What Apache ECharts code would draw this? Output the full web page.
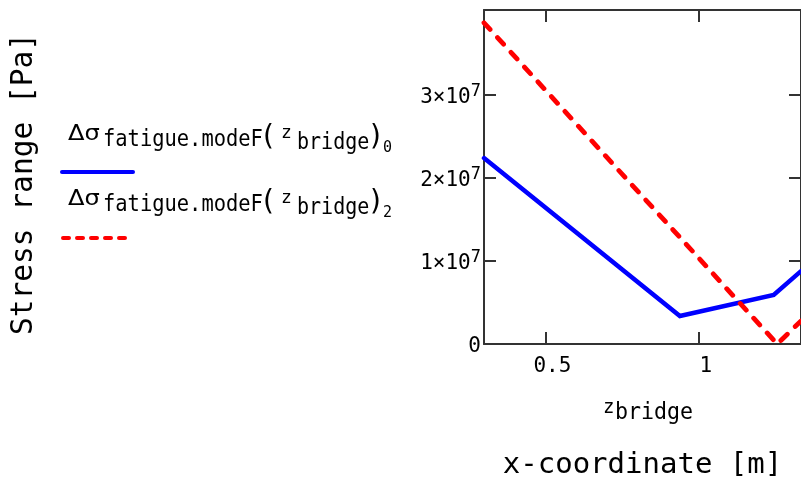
<!DOCTYPE html>
<html>
<head>
<meta charset="utf-8">
<script src="https://cdn.jsdelivr.net/npm/echarts@6/dist/echarts.min.js"></script>
<style>
  html, body { margin: 0; padding: 0; background: #ffffff; }
  #chart { width: 801px; height: 479px; }
</style>
</head>
<body>
<div id="chart"></div>
<script>
// Stress range along the bridge, fatigue mode F, two load cases
const zBridge0 = [0.3, 0.938, 1.2435, 1.3325];
const stressMode0 = [2.24e7, 0.337e7, 0.59e7, 0.878e7];
const zBridge2 = [0.3, 1.255, 1.3325];
const stressMode2 = [3.87e7, 0, 0.278e7];

const xTicks = [0.5, 1];
const yTicks = [0, 1e7, 2e7, 3e7];

const MONO = '"DejaVu Sans Mono", monospace';
const SANS = '"DejaVu Sans", sans-serif';
const AXIS_COLOR = '#333333';

const chart = echarts.init(document.getElementById('chart'), null, { renderer: 'canvas' });

function pairs(xs, ys) { return xs.map((x, i) => [x, ys[i]]); }

function txt(x, y, text, size, family, align, sx) {
  return {
    type: 'text', x: x, y: y, silent: true, scaleX: sx || 1,
    style: {
      text: text, fill: '#000', fontSize: size, fontFamily: family,
      align: align || 'left', verticalAlign: 'middle',
      textAlign: align || 'left', textVerticalAlign: 'middle'
    }
  };
}

// legend entry: Δσ_fatigue.modeF(z_bridge)_k with a line sample below
function legendEntry(dy, idx) {
  return [
    txt(68, 135.0 + dy, 'Δσ', 21, SANS, 'left', 1.15),
    txt(103, 140.5 + dy, 'fatigue.modeF', 22.5, MONO, 'left', 0.908),
    txt(263, 137.5 + dy, '(', 28, SANS),
    txt(281, 133.5 + dy, 'z', 18, MONO),
    txt(297, 143.5 + dy, 'bridge', 22.5, MONO, 'left', 0.89),
    txt(370, 137.5 + dy, ')', 28, SANS),
    txt(383, 148.5 + dy, idx, 15, MONO)
  ];
}

const axisLineStyle = { color: AXIS_COLOR, width: 2 };

const option = {
  animation: false,
  backgroundColor: '#ffffff',
  grid: { left: 484, top: 10, right: -1, bottom: 135, containLabel: false },
  xAxis: [
    {
      type: 'value', min: 0.3, max: 1.3325, position: 'bottom',
      axisLine: { show: true, onZero: false, lineStyle: axisLineStyle },
      axisTick: { show: true, inside: true, length: 12, customValues: xTicks, lineStyle: axisLineStyle },
      axisLabel: {
        show: true, customValues: xTicks, margin: 12,
        fontFamily: MONO, fontSize: 21, color: '#000',
        padding: [0, 0, 0, 14],
        formatter: v => String(v)
      },
      splitLine: { show: false }
    },
    {
      type: 'value', min: 0.3, max: 1.3325, position: 'top',
      axisLine: { show: true, onZero: false, lineStyle: axisLineStyle },
      axisTick: { show: true, inside: true, length: 12, customValues: xTicks, lineStyle: axisLineStyle },
      axisLabel: { show: false },
      splitLine: { show: false }
    }
  ],
  yAxis: [
    {
      type: 'value', min: 0, max: 4.024e7, position: 'left',
      axisLine: { show: true, onZero: false, lineStyle: axisLineStyle },
      axisTick: { show: true, inside: true, length: 12, customValues: yTicks, lineStyle: axisLineStyle },
      axisLabel: {
        show: true, customValues: yTicks, margin: 3,
        formatter: v => v === 0 ? '{m|0}' : '{m|' + Math.round(v / 1e7) + '×10}{s|7}',
        rich: {
          m: { fontFamily: MONO, fontSize: 21, color: '#000', lineHeight: 32, padding: [6, 0, 0, 0], verticalAlign: 'middle' },
          s: { fontFamily: MONO, fontSize: 17, color: '#000', lineHeight: 17, padding: [4, 0, 0, 0], verticalAlign: 'top' }
        }
      },
      splitLine: { show: false }
    },
    {
      type: 'value', min: 0, max: 4.024e7, position: 'right',
      axisLine: { show: true, onZero: false, lineStyle: axisLineStyle },
      axisTick: { show: true, inside: true, length: 12, customValues: yTicks, lineStyle: axisLineStyle },
      axisLabel: { show: false },
      splitLine: { show: false }
    }
  ],
  series: [
    {
      name: 'mode0', type: 'line', xAxisIndex: 0, yAxisIndex: 0,
      data: pairs(zBridge0, stressMode0),
      symbol: 'none', clip: true,
      lineStyle: { color: '#0000ff', width: 4.5, cap: 'round', join: 'miter' }
    },
    {
      name: 'mode2', type: 'line', xAxisIndex: 0, yAxisIndex: 0,
      data: pairs(zBridge2, stressMode2),
      symbol: 'none', clip: true,
      lineStyle: { color: '#ff0000', width: 4.8, type: [9, 11], cap: 'round', join: 'miter' }
    }
  ],
  graphic: [
    // vertical axis title
    {
      type: 'text', x: 24, y: 184, rotation: Math.PI / 2, silent: true,
      style: {
        text: 'Stress range [Pa]', fill: '#000', fontSize: 29.5, fontFamily: MONO,
        align: 'center', verticalAlign: 'middle', textAlign: 'center', textVerticalAlign: 'middle'
      }
    },
    // horizontal axis titles
    txt(603, 408, 'z', 19, MONO),
    txt(615, 413.5, 'bridge', 23, MONO, 'left', 0.94),
    txt(642.5, 465, 'x-coordinate [m]', 29, MONO, 'center'),
    // legend
    ...legendEntry(0, '0'),
    ...legendEntry(65, '2'),
    {
      type: 'line', silent: true,
      shape: { x1: 62, y1: 172, x2: 133, y2: 172 },
      style: { stroke: '#0000ff', lineWidth: 4, lineCap: 'round' }
    },
    {
      type: 'line', silent: true,
      shape: { x1: 63, y1: 238, x2: 130, y2: 238 },
      style: { stroke: '#ff0000', lineWidth: 4, lineCap: 'round', lineDash: [6, 8] }
    }
  ]
};

chart.setOption(option);
</script>
</body>
</html>
